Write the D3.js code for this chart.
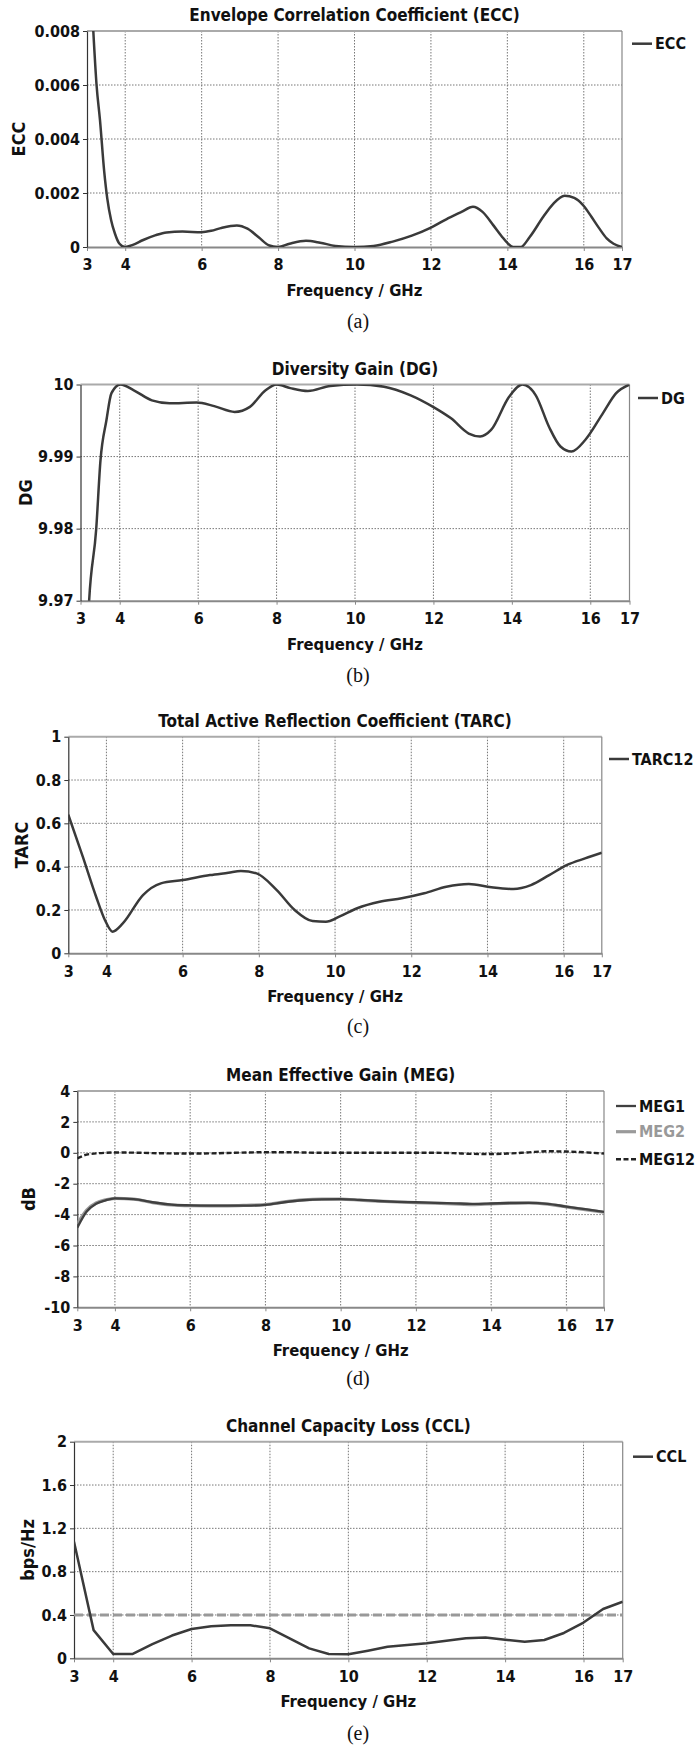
<!DOCTYPE html>
<html>
<head>
<meta charset="utf-8">
<title>ECC / DG / TARC / MEG / CCL</title>
<script src="https://cdn.jsdelivr.net/npm/d3@7"></script>
<style>
  body { margin: 0; background: #fff; }
  svg text {
    font-family: "DejaVu Sans Condensed", "DejaVu Sans", sans-serif;
    font-weight: bold;
    font-stretch: condensed;
    fill: #111;
  }
  .tick text { font-size: 16px; }
  .title { font-size: 17px; }
  .xlabel { font-size: 16.5px; }
  .ylabel { font-size: 18px; }
  .legend text { font-size: 16px; }
  svg text.sub {
    font-family: "Liberation Serif", "Times New Roman", serif;
    font-weight: normal;
    font-stretch: normal;
    font-size: 20px;
  }
  .grid line { stroke: #777; stroke-dasharray: 1.5,1.5; stroke-width: 1; }
</style>
</head>
<body>
<svg id="fig" width="700" height="1747"></svg>
<script>

// ---- data ----
var xTicks = [3, 4, 6, 8, 10, 12, 14, 16, 17];
var xGrid = [4, 6, 8, 10, 12, 14, 16];

// (a) ECC
var eccFreq = [3.1, 3.165, 3.25, 3.34, 3.45, 3.53, 3.63, 3.73, 3.85, 4.0, 4.2, 4.47, 4.8, 5.08, 5.5, 6.0, 6.25, 6.5, 6.92, 7.2,
  7.5, 7.75, 8.0, 8.3, 8.73, 9.1, 9.5, 10.0, 10.5, 11.0, 11.5, 12.0, 12.5, 12.8, 13.1, 13.35, 13.63, 13.85, 14.0, 14.15,
  14.35, 14.59, 14.94, 15.2, 15.5, 15.75, 16.0, 16.2, 16.4, 16.6, 16.78, 17.0];
var ecc = [0.0098, 0.008, 0.006, 0.0047, 0.0028, 0.0018, 0.001, 0.0005, 0.00012, 0, 0.00008, 0.00026, 0.00044, 0.00054, 0.00057, 0.00055, 0.0006, 0.0007, 0.0008, 0.00068,
  0.00035, 0.00007, 0, 0.00012, 0.00023, 0.00016, 0.00004, 0, 0.00004, 0.0002, 0.00042, 0.00072, 0.0011, 0.0013, 0.00149, 0.0013, 0.00081, 0.0004, 0.00015, 0,
  0, 0.00038, 0.00112, 0.0016, 0.0019, 0.00182, 0.00152, 0.00112, 0.0007, 0.00032, 0.00012, 0];
var eccTicks = [0, 0.002, 0.004, 0.006, 0.008];

// (b) DG
var dgFreq = [3.15, 3.22, 3.4, 3.51, 3.66, 3.79, 4.02, 4.36, 4.82, 5.27, 5.96, 6.41, 6.93, 7.32, 7.72, 8.0, 8.35, 8.8, 9.37,
  10.05, 10.74, 11.42, 11.99, 12.45, 12.9, 13.19, 13.47, 13.93, 14.27, 14.61, 14.95, 15.24, 15.52, 15.87, 16.32, 16.66, 17.0];
var dg = [9.962, 9.97, 9.9799, 9.9895, 9.995, 9.9988, 10, 9.9992, 9.9978, 9.9974, 9.9975, 9.997, 9.9962, 9.9969, 9.9992, 10, 9.9995, 9.9991, 9.9998,
  10, 9.9997, 9.9985, 9.9969, 9.9953, 9.9932, 9.9928, 9.9937, 9.9983, 10, 9.9985, 9.9941, 9.9914, 9.9907, 9.9923, 9.996, 9.9988, 10];
var dgTicks = [9.97, 9.98, 9.99, 10];

// (c) TARC
var tarcFreq = [3, 3.38, 3.73, 3.96, 4.16, 4.43, 4.96, 5.43, 6.0, 6.72, 7.2, 7.53, 7.94, 8.47, 8.94, 9.41, 9.76, 10.11, 10.58, 11.17,
  11.75, 12.34, 12.92, 13.51, 14.1, 14.68, 15.14, 15.62, 16.09, 16.56, 17];
var tarc = [0.64, 0.446, 0.261, 0.154, 0.10, 0.138, 0.269, 0.323, 0.338, 0.361, 0.372, 0.38, 0.369, 0.292, 0.2, 0.149, 0.146, 0.169, 0.208, 0.238,
  0.254, 0.277, 0.307, 0.32, 0.305, 0.297, 0.315, 0.361, 0.408, 0.438, 0.464];
var tarcTicks = [0, 0.2, 0.4, 0.6, 0.8, 1];

// (d) MEG
var megFreq = [3, 3.25, 3.5, 3.75, 4, 4.5, 5, 5.5, 6, 6.5, 7, 7.5, 8, 8.5, 9, 9.5, 10, 10.5, 11, 11.5,
  12, 12.5, 13, 13.5, 14, 14.5, 15, 15.5, 16, 16.5, 17];
var meg1 = [-4.85, -3.8, -3.3, -3.08, -2.95, -3.0, -3.2, -3.35, -3.4, -3.42, -3.42, -3.42, -3.37, -3.2, -3.07, -3.01, -3.0, -3.05, -3.12, -3.17,
  -3.2, -3.24, -3.27, -3.3, -3.28, -3.25, -3.24, -3.3, -3.48, -3.65, -3.82];
var meg2 = [-4.6, -3.7, -3.25, -3.05, -2.95, -3.0, -3.22, -3.37, -3.42, -3.43, -3.43, -3.4, -3.35, -3.18, -3.05, -3.0, -3.0, -3.06, -3.13, -3.18,
  -3.22, -3.26, -3.3, -3.35, -3.3, -3.26, -3.24, -3.32, -3.5, -3.68, -3.85];
var meg12 = [-0.36, -0.12, -0.04, 0, 0.02, 0.01, -0.02, -0.04, -0.05, -0.04, -0.01, 0.02, 0.04, 0.04, 0.02, 0, 0, 0, 0, 0,
  0, 0, -0.02, -0.07, -0.08, -0.04, 0.03, 0.1, 0.08, 0.03, -0.05];
var megTicks = [-10, -8, -6, -4, -2, 0, 2, 4];

// (e) CCL
var cclFreq = [3, 3.5, 4, 4.5, 5, 5.5, 6, 6.5, 7, 7.5, 8, 8.5, 9, 9.5, 10, 10.5, 11, 11.5, 12, 12.5,
  13, 13.5, 14, 14.5, 15, 15.5, 16, 16.5, 17];
var ccl = [1.077, 0.26, 0.04, 0.04, 0.13, 0.21, 0.27, 0.295, 0.305, 0.305, 0.277, 0.185, 0.092, 0.04, 0.037, 0.07, 0.107, 0.123, 0.138, 0.163,
  0.185, 0.192, 0.172, 0.153, 0.169, 0.234, 0.33, 0.455, 0.523];
var cclLimit = 0.4;
var cclTicks = [0, 0.4, 0.8, 1.2, 1.6, 2];

// ---- drawing ----
var svg = d3.select("#fig");
var fmt = function(d) { return String(+d.toFixed(4)); };

function zip(xs, ys) {
  return xs.map(function(x, i) { return [x, ys[i]]; });
}

function drawChart(c, idx) {
  var x = d3.scaleLinear().domain([3, 17]).range([c.left, c.right]);
  var y = d3.scaleLinear().domain([c.ticks[0], c.ticks[c.ticks.length - 1]]).range([c.bottom, c.top]);
  var g = svg.append("g");

  // grid
  var grid = g.append("g").attr("class", "grid");
  grid.selectAll(".gx").data(xGrid).enter().append("line")
    .attr("x1", function(d) { return x(d); }).attr("x2", function(d) { return x(d); })
    .attr("y1", c.top).attr("y2", c.bottom);
  grid.selectAll(".gy").data(c.ticks.slice(1, -1)).enter().append("line")
    .attr("y1", function(d) { return y(d); }).attr("y2", function(d) { return y(d); })
    .attr("x1", c.left).attr("x2", c.right);

  // frame: top and right
  g.append("line").attr("x1", c.left).attr("x2", c.right).attr("y1", c.top).attr("y2", c.top)
    .attr("stroke", "#aaa").attr("stroke-width", 2);
  g.append("line").attr("x1", c.right).attr("x2", c.right).attr("y1", c.top).attr("y2", c.bottom)
    .attr("stroke", "#888").attr("stroke-width", 1.2);

  // axes
  var ax = g.append("g").attr("transform", "translate(0," + c.bottom + ")")
    .call(d3.axisBottom(x).tickValues(xTicks).tickFormat(fmt).tickSize(4).tickSizeOuter(0).tickPadding(8));
  ax.select(".domain").attr("stroke", "#888").attr("stroke-width", 2);
  ax.selectAll(".tick line").attr("stroke", "#888");

  var ay = g.append("g").attr("transform", "translate(" + c.left + ",0)")
    .call(d3.axisLeft(y).tickValues(c.ticks).tickFormat(fmt).tickSize(4).tickSizeOuter(0).tickPadding(3));
  ay.select(".domain").attr("stroke", "#333").attr("stroke-width", 1.2);
  ay.selectAll(".tick line").attr("stroke", "#333");

  // optional reference line
  if (c.limit != null) {
    g.append("line").attr("x1", c.left).attr("x2", c.right)
      .attr("y1", y(c.limit)).attr("y2", y(c.limit))
      .attr("stroke", "#999").attr("stroke-width", 3).attr("stroke-dasharray", "9,4");
  }

  // series, clipped to the plot
  var clipId = "clip" + idx;
  svg.append("clipPath").attr("id", clipId).append("rect")
    .attr("x", c.left).attr("y", c.top).attr("width", c.right - c.left).attr("height", c.bottom - c.top);
  var line = d3.line()
    .x(function(d) { return x(d[0]); })
    .y(function(d) { return y(d[1]); })
    .curve(c.curve);
  var plot = g.append("g").attr("clip-path", "url(#" + clipId + ")");
  c.series.forEach(function(s) {
    plot.append("path").datum(zip(s.x, s.y))
      .attr("fill", "none")
      .attr("stroke", s.color)
      .attr("stroke-width", s.width)
      .attr("stroke-dasharray", s.dash || null)
      .attr("stroke-linejoin", "round")
      .attr("d", line);
  });

  // texts
  g.append("text").attr("class", "title")
    .attr("x", (c.left + c.right) / 2).attr("y", c.top - 10)
    .attr("text-anchor", "middle").text(c.title);
  g.append("text").attr("class", "xlabel")
    .attr("x", (c.left + c.right) / 2).attr("y", c.bottom + 49)
    .attr("text-anchor", "middle").text("Frequency / GHz");
  g.append("text").attr("class", "ylabel")
    .attr("transform", "translate(" + c.ylabelX + "," + (c.top + c.bottom) / 2 + ") rotate(-90)")
    .attr("text-anchor", "middle").attr("dy", "0.35em").text(c.ylabel);
  g.append("text").attr("class", "sub")
    .attr("x", 358).attr("y", c.subY)
    .attr("text-anchor", "middle").text(c.sub);

  // legend
  var lg = g.append("g").attr("class", "legend");
  c.series.forEach(function(s, i) {
    var ly = c.legendY[i];
    lg.append("line").attr("x1", c.legendX).attr("x2", c.legendX + 20)
      .attr("y1", ly).attr("y2", ly)
      .attr("stroke", s.color).attr("stroke-width", s.width)
      .attr("stroke-dasharray", s.dash || null);
    lg.append("text").attr("x", c.legendX + 23).attr("y", ly).attr("dy", "0.35em")
      .style("fill", s.textColor || "#111").text(s.name);
  });
}

var dark = "#3a3a3a";

var charts = [
  { title: "Envelope Correlation Coefficient (ECC)", ylabel: "ECC", sub: "(a)",
    left: 87, right: 622, top: 31, bottom: 247, ylabelX: 19, subY: 328,
    ticks: eccTicks, curve: d3.curveMonotoneX, legendX: 632, legendY: [43.7],
    series: [{ name: "ECC", x: eccFreq, y: ecc, color: dark, width: 2.5 }] },
  { title: "Diversity Gain (DG)", ylabel: "DG", sub: "(b)",
    left: 80.5, right: 629.5, top: 384.5, bottom: 600.7, ylabelX: 26, subY: 682,
    ticks: dgTicks, curve: d3.curveMonotoneX, legendX: 638, legendY: [398],
    series: [{ name: "DG", x: dgFreq, y: dg, color: dark, width: 2.5 }] },
  { title: "Total Active Reflection Coefficient (TARC)", ylabel: "TARC", sub: "(c)",
    left: 68.3, right: 601.8, top: 736.7, bottom: 953.3, ylabelX: 22, subY: 1033,
    ticks: tarcTicks, curve: d3.curveMonotoneX, legendX: 609, legendY: [759],
    series: [{ name: "TARC12", x: tarcFreq, y: tarc, color: dark, width: 2.5 }] },
  { title: "Mean Effective Gain (MEG)", ylabel: "dB", sub: "(d)",
    left: 77.3, right: 604, top: 1091, bottom: 1307.3, ylabelX: 28.5, subY: 1385,
    ticks: megTicks, curve: d3.curveMonotoneX, legendX: 616, legendY: [1131.7, 1106, 1159.3],
    series: [
      { name: "MEG2", x: megFreq, y: meg2, color: "#9a9a9a", width: 3.2, textColor: "#999" },
      { name: "MEG1", x: megFreq, y: meg1, color: "#404040", width: 2.3 },
      { name: "MEG12", x: megFreq, y: meg12, color: "#222", width: 2.4, dash: "5,2.5" }
    ] },
  { title: "Channel Capacity Loss (CCL)", ylabel: "bps/Hz", sub: "(e)",
    left: 74, right: 622.7, top: 1441.7, bottom: 1658.3, ylabelX: 28, subY: 1740,
    ticks: cclTicks, curve: d3.curveLinear, limit: cclLimit, legendX: 633, legendY: [1456.7],
    series: [{ name: "CCL", x: cclFreq, y: ccl, color: dark, width: 2.5 }] }
];

charts.forEach(drawChart);

</script>
</body>
</html>
